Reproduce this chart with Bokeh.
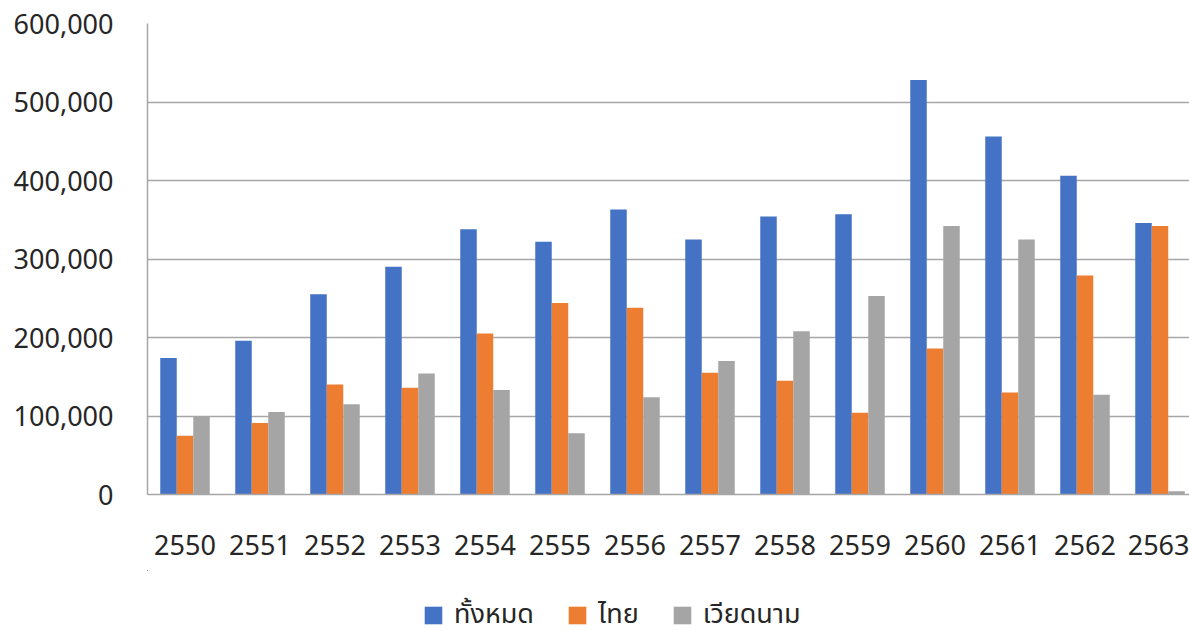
from bokeh.plotting import figure
from bokeh.models import ColumnDataSource, Range1d, FixedTicker, NumeralTickFormatter, Legend, LegendItem
from bokeh.transform import dodge
from bokeh.layouts import column
from bokeh.embed import file_html
from bokeh.resources import INLINE

years = ["2550", "2551", "2552", "2553", "2554", "2555", "2556",
         "2557", "2558", "2559", "2560", "2561", "2562", "2563"]
total = [174000, 196000, 255000, 290000, 338000, 322000, 363000,
         325000, 354000, 357000, 528000, 456000, 406000, 346000]
thai = [75000, 91000, 140000, 136000, 205000, 244000, 238000,
        155000, 145000, 104000, 186000, 130000, 279000, 342000]
vietnam = [99000, 105000, 115000, 154000, 133000, 78000, 124000,
           170000, 208000, 253000, 342000, 325000, 127000, 4000]
series_names = ["ทั้งหมด", "ไทย", "เวียดนาม"]
y_ticks = [0, 100000, 200000, 300000, 400000, 500000, 600000]

colors = ["#4472C4", "#ED7D31", "#A5A5A5"]
FONT = "Noto Sans, Noto Sans Thai, sans-serif"
TXT = "#262626"

W = 1189
H_MAIN, H_LEG = 570, 60
LEFT, TOP = 147, 23
FRAME_H = 471
CAT_PX = 75.0
x_end = -0.5 + (W - LEFT) / CAT_PX

src = ColumnDataSource(dict(idx=list(range(len(years))), total=total, thai=thai, vietnam=vietnam))

p = figure(width=W, height=H_MAIN, output_backend="svg", toolbar_location=None,
           x_range=Range1d(-0.5, x_end), y_range=Range1d(0, 600000),
           min_border_left=LEFT, min_border_top=TOP, min_border_right=0,
           min_border_bottom=H_MAIN - TOP - FRAME_H)
p.outline_line_color = None
p.background_fill_color = "white"
p.border_fill_color = "white"

bw = 0.22
fields = ["total", "thai", "vietnam"]
offsets = [-bw, 0, bw]
for f, off, c in zip(fields, offsets, colors):
    p.vbar(x=dodge("idx", off, range=p.x_range), top=f, width=bw, source=src,
           fill_color=c, line_color=None)

p.xgrid.grid_line_color = None
p.ygrid.grid_line_color = "#A6A6A6"
p.ygrid.grid_line_width = 1.5
p.ygrid.ticker = FixedTicker(ticks=y_ticks)

p.yaxis.ticker = FixedTicker(ticks=y_ticks)
p.yaxis.formatter = NumeralTickFormatter(format="0,0")
p.yaxis.axis_line_color = "#A6A6A6"
p.yaxis.axis_line_width = 1.5
p.yaxis.major_tick_line_color = None
p.yaxis.minor_tick_line_color = None
p.yaxis.major_label_standoff = 28
p.yaxis.major_label_text_font = FONT
p.yaxis.major_label_text_font_size = "27px"
p.yaxis.major_label_text_color = TXT

p.xaxis.ticker = FixedTicker(ticks=list(range(len(years))))
p.xaxis.major_label_overrides = {i: y for i, y in enumerate(years)}
p.xaxis.axis_line_color = "#A6A6A6"
p.xaxis.axis_line_width = 1.5
p.xaxis.major_tick_line_color = None
p.xaxis.minor_tick_line_color = None
p.xaxis.major_label_standoff = 34
p.xaxis.major_label_text_font = FONT
p.xaxis.major_label_text_font_size = "27px"
p.xaxis.major_label_text_color = TXT

# legend strip below the chart (its renderers lie outside its ranges, so only the legend shows)
q = figure(width=W, height=H_LEG, output_backend="svg", toolbar_location=None,
           x_range=Range1d(100, 101), y_range=Range1d(-2e6, -1e6),
           min_border_left=0, min_border_right=0, min_border_top=0, min_border_bottom=0)
q.outline_line_color = None
q.axis.visible = False
q.grid.grid_line_color = None
q.border_fill_color = "white"
leg_renderers = []
for f, c in zip(fields, colors):
    leg_renderers.append(q.vbar(x="idx", top=f, width=bw, source=src,
                                fill_color=c, line_color=None))

legend = Legend(items=[LegendItem(label=n, renderers=[r]) for n, r in zip(series_names, leg_renderers)],
                orientation="horizontal", location=(275, -5))
legend.label_text_font = FONT
legend.label_text_font_size = "27px"
legend.label_text_color = TXT
legend.glyph_width = 22
legend.glyph_height = 22
legend.label_standoff = 10
legend.spacing = 32
legend.border_line_color = None
legend.background_fill_alpha = 0
legend.margin = 0
legend.padding = 0
q.add_layout(legend)

layout = column(p, q, spacing=0)
open("out.html", "w").write(file_html(layout, INLINE))
